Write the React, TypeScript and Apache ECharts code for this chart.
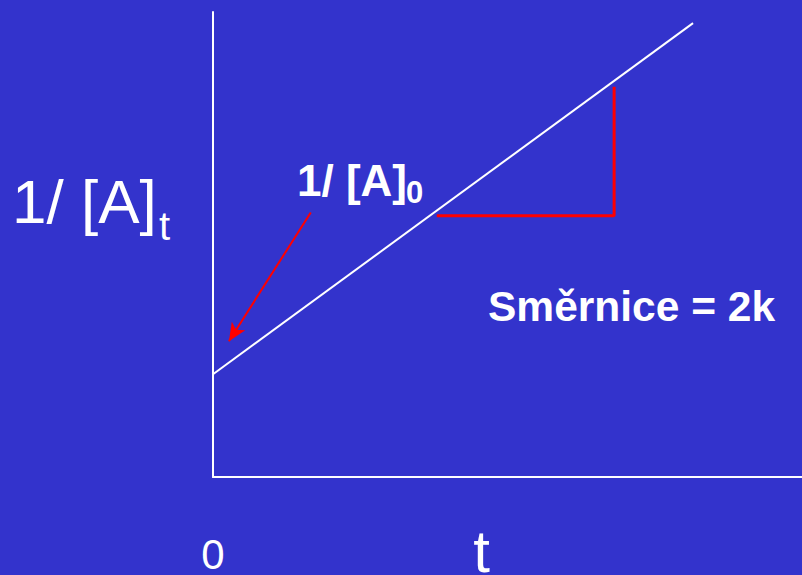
import React, { useEffect, useRef } from "react";
import * as echarts from "echarts";

// Axis range (time t and 1/[A]t in arbitrary units)
const xRange = [0, 10];
const yRange = [0, 10];

// Straight line 1/[A]t = 1/[A]0 + 2k t
const lineT = [0, 8.15];
const lineInv = [2.21, 9.76];

// Slope triangle (red)
const triT = [3.8, 6.81, 6.81];
const triInv = [5.62, 5.62, 8.39];

// Arrow pointing at the intercept 1/[A]0
const arrowFrom = [1.66, 5.69];
const arrowTo = [0.27, 2.92];

// Tick labels on the time axis
const xTickLabels = ["0"];

const BG = "#3333CC";
const FF = '"Liberation Sans", Arial, Helvetica, sans-serif';

export default function App() {
  const ref = useRef<HTMLDivElement>(null);

  useEffect(() => {
    document.body.style.margin = "0";
    document.body.style.background = BG;
    if (!ref.current) return;
    const chart = echarts.init(ref.current, null, { renderer: "svg" });

    const txt = (
      text: string,
      x: number,
      y: number,
      size: number,
      bold: boolean,
      align: string = "left"
    ) => ({
      type: "text",
      x,
      y,
      silent: true,
      style: {
        text,
        fill: "#ffffff",
        font: `${bold ? "bold " : ""}${size}px ${FF}`,
        align,
        textAlign: align,
        verticalAlign: "middle",
        textVerticalAlign: "middle",
      },
    });

    chart.setOption({
      animation: false,
      backgroundColor: BG,
      grid: { left: 213, right: 0, top: 12, bottom: 97, containLabel: false },
      xAxis: {
        type: "value",
        min: xRange[0],
        max: xRange[1],
        splitLine: { show: false },
        axisTick: { show: false },
        axisLine: { show: true, lineStyle: { color: "#ffffff", width: 2 } },
        axisLabel: {
          show: true,
          color: "#ffffff",
          fontFamily: FF,
          fontSize: 42,
          lineHeight: 34,
          margin: 60,
          showMaxLabel: false,
          formatter: (v: number) => (v === 0 ? xTickLabels[0] : ""),
        },
      },
      yAxis: {
        type: "value",
        min: yRange[0],
        max: yRange[1],
        splitLine: { show: false },
        axisTick: { show: false },
        axisLabel: { show: false },
        axisLine: { show: true, lineStyle: { color: "#ffffff", width: 2 } },
      },
      series: [
        {
          type: "line",
          name: "1/[A]t",
          data: lineT.map((t, i) => [t, lineInv[i]]),
          symbol: "none",
          lineStyle: { color: "#ffffff", width: 2 },
          silent: true,
          markLine: {
            silent: true,
            symbol: ["none", "arrow"],
            symbolSize: [12, 18],
            label: { show: false },
            lineStyle: { color: "#ff0000", width: 2, type: "solid" },
            emphasis: { disabled: true },
            data: [
              [
                { coord: arrowFrom },
                { coord: arrowTo },
              ],
            ],
          },
        },
        {
          type: "line",
          name: "slope",
          data: triT.map((t, i) => [t, triInv[i]]),
          symbol: "none",
          lineStyle: { color: "#ff0000", width: 3 },
          silent: true,
        },
      ],
      graphic: [
        txt("1/ [A]", 12, 201.5, 62, false),
        txt("t", 159, 226, 40, false),
        txt("1/ [A]", 297, 180, 44, true),
        txt("0", 406, 192, 31, true),
        txt("Směrnice = 2k", 488, 306, 42.5, true),
        txt("t", 481.5, 551, 60, false, "center"),
      ],
    });

    return () => chart.dispose();
  }, []);

  return <div ref={ref} style={{ width: 802, height: 575 }} />;
}
